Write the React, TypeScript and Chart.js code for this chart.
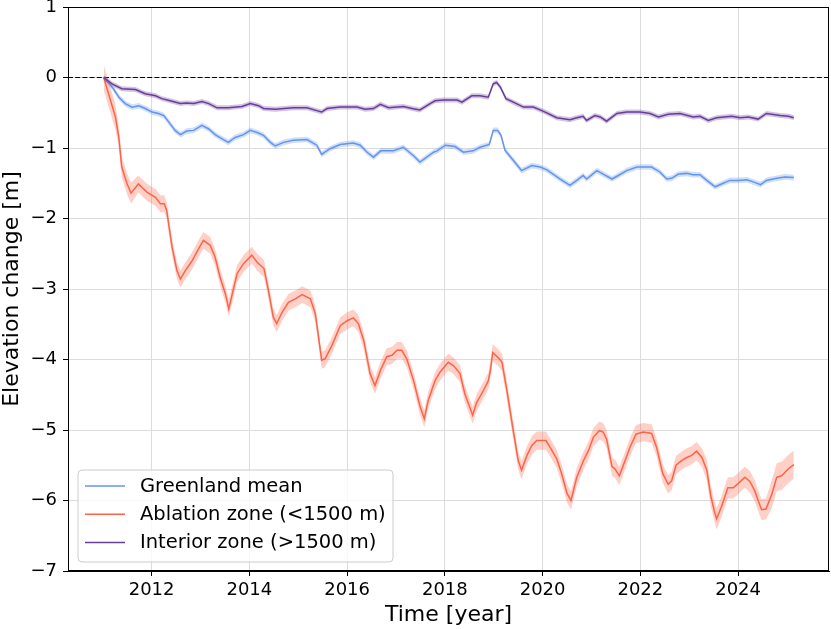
import { useEffect, useRef } from "react";
import { Chart, registerables } from "chart.js";

Chart.register(...registerables);

// ---------- axis ranges & ticks ----------
const X_MIN = 2010.29;
const X_MAX = 2025.86;
const Y_MIN = -7;
const Y_MAX = 1;
const xTicks = [2012, 2014, 2016, 2018, 2020, 2022, 2024];
const xTickLabels = ["2012", "2014", "2016", "2018", "2020", "2022", "2024"];
const yTicks = [-7, -6, -5, -4, -3, -2, -1, 0, 1];
const yTickLabels = ["\u22127", "\u22126", "\u22125", "\u22124", "\u22123", "\u22122", "\u22121", "0", "1"];

const xTitle = "Time [year]";
const yTitle = "Elevation change [m]";
const seriesNames = ["Greenland mean", "Ablation zone (<1500 m)", "Interior zone (>1500 m)"];
const seriesColors = ["#6495ED", "#FF6347", "#6a3d9a"];
const bandColors = ["rgba(100,149,237,0.3)", "rgba(255,99,71,0.3)", "rgba(106,61,154,0.3)"];

// ---------- data: [year, elevation change (m)] ----------
const meanPoints: [number, number][] = [
  [2011.02, 0.0], [2011.22, -0.16], [2011.33, -0.28], [2011.46, -0.37], [2011.6, -0.42],
  [2011.74, -0.4], [2011.87, -0.44], [2012.01, -0.49], [2012.14, -0.51], [2012.25, -0.54],
  [2012.35, -0.63], [2012.48, -0.75], [2012.59, -0.81], [2012.72, -0.76], [2012.86, -0.75],
  [2013.03, -0.68], [2013.17, -0.73], [2013.3, -0.81], [2013.47, -0.88], [2013.57, -0.92],
  [2013.71, -0.85], [2013.88, -0.81], [2014.02, -0.75], [2014.16, -0.78], [2014.29, -0.82],
  [2014.43, -0.92], [2014.53, -0.97], [2014.7, -0.92], [2014.9, -0.89], [2015.18, -0.88],
  [2015.38, -0.96], [2015.48, -1.09], [2015.65, -1.01], [2015.86, -0.95], [2016.13, -0.93],
  [2016.27, -0.96], [2016.41, -1.06], [2016.54, -1.13], [2016.69, -1.04], [2016.95, -1.04],
  [2017.15, -0.99], [2017.36, -1.11], [2017.49, -1.2], [2017.63, -1.13], [2017.77, -1.06],
  [2017.84, -1.04], [2018.01, -0.96], [2018.21, -0.98], [2018.38, -1.06], [2018.58, -1.04],
  [2018.72, -0.99], [2018.91, -0.95], [2018.99, -0.75], [2019.08, -0.75], [2019.15, -0.82],
  [2019.23, -1.03], [2019.37, -1.15], [2019.57, -1.32], [2019.78, -1.25], [2019.95, -1.27],
  [2020.09, -1.31], [2020.36, -1.44], [2020.56, -1.53], [2020.7, -1.46], [2020.83, -1.39],
  [2020.9, -1.44], [2021.11, -1.32], [2021.24, -1.37], [2021.42, -1.44], [2021.55, -1.39],
  [2021.72, -1.32], [2021.93, -1.27], [2022.23, -1.27], [2022.4, -1.34], [2022.54, -1.44],
  [2022.64, -1.43], [2022.78, -1.37], [2022.95, -1.36], [2023.08, -1.38], [2023.22, -1.38],
  [2023.36, -1.46], [2023.53, -1.55], [2023.66, -1.51], [2023.83, -1.46], [2024.0, -1.46],
  [2024.18, -1.45], [2024.31, -1.48], [2024.46, -1.52], [2024.58, -1.46], [2024.79, -1.43],
  [2024.96, -1.41], [2025.14, -1.42],
];

const ablationPoints: [number, number][] = [
  [2011.02, 0.0], [2011.12, -0.23], [2011.26, -0.56], [2011.33, -0.85], [2011.39, -1.27],
  [2011.5, -1.51], [2011.58, -1.64], [2011.73, -1.51], [2011.91, -1.63], [2012.08, -1.7],
  [2012.18, -1.79], [2012.26, -1.79], [2012.31, -1.89], [2012.42, -2.41], [2012.52, -2.74],
  [2012.59, -2.86], [2012.69, -2.74], [2012.83, -2.6], [2012.96, -2.43], [2013.06, -2.31],
  [2013.2, -2.38], [2013.3, -2.55], [2013.4, -2.83], [2013.51, -3.07], [2013.58, -3.28],
  [2013.75, -2.78], [2013.88, -2.64], [2014.05, -2.52], [2014.16, -2.62], [2014.3, -2.71],
  [2014.39, -3.02], [2014.49, -3.4], [2014.56, -3.49], [2014.67, -3.33], [2014.8, -3.19],
  [2014.94, -3.14], [2015.08, -3.08], [2015.25, -3.14], [2015.35, -3.35], [2015.48, -4.01],
  [2015.55, -3.99], [2015.69, -3.8], [2015.86, -3.52], [2016.0, -3.45], [2016.13, -3.41],
  [2016.23, -3.49], [2016.34, -3.73], [2016.47, -4.2], [2016.57, -4.37], [2016.68, -4.16],
  [2016.81, -3.96], [2016.92, -3.94], [2017.02, -3.87], [2017.12, -3.87], [2017.22, -3.99],
  [2017.36, -4.3], [2017.49, -4.66], [2017.58, -4.84], [2017.66, -4.58], [2017.8, -4.3],
  [2017.9, -4.18], [2018.07, -4.04], [2018.18, -4.09], [2018.31, -4.2], [2018.41, -4.49],
  [2018.57, -4.79], [2018.65, -4.61], [2018.79, -4.44], [2018.89, -4.3], [2018.93, -4.16],
  [2018.98, -3.9], [2019.1, -3.98], [2019.17, -4.04], [2019.27, -4.44], [2019.4, -5.01],
  [2019.5, -5.43], [2019.57, -5.57], [2019.68, -5.36], [2019.78, -5.22], [2019.88, -5.15],
  [2019.98, -5.15], [2020.07, -5.15], [2020.19, -5.29], [2020.29, -5.41], [2020.39, -5.62],
  [2020.5, -5.9], [2020.58, -6.0], [2020.7, -5.67], [2020.84, -5.43], [2020.94, -5.29],
  [2021.04, -5.1], [2021.16, -5.01], [2021.24, -5.03], [2021.31, -5.13], [2021.42, -5.52],
  [2021.48, -5.55], [2021.57, -5.65], [2021.69, -5.43], [2021.79, -5.24], [2021.91, -5.06],
  [2022.06, -5.03], [2022.16, -5.04], [2022.23, -5.05], [2022.33, -5.24], [2022.46, -5.62],
  [2022.57, -5.77], [2022.64, -5.72], [2022.73, -5.5], [2022.85, -5.43], [2022.95, -5.39],
  [2023.05, -5.36], [2023.15, -5.3], [2023.26, -5.39], [2023.36, -5.57], [2023.44, -5.93],
  [2023.51, -6.14], [2023.56, -6.26], [2023.66, -6.09], [2023.79, -5.82], [2023.9, -5.82],
  [2024.0, -5.76], [2024.14, -5.67], [2024.24, -5.73], [2024.34, -5.86], [2024.41, -6.0],
  [2024.48, -6.13], [2024.57, -6.12], [2024.69, -5.91], [2024.79, -5.67], [2024.89, -5.65],
  [2025.03, -5.55], [2025.14, -5.49],
];

const interiorPoints: [number, number][] = [
  [2011.02, 0.0], [2011.19, -0.09], [2011.39, -0.16], [2011.67, -0.17], [2011.87, -0.23],
  [2012.08, -0.26], [2012.21, -0.3], [2012.38, -0.33], [2012.59, -0.37], [2012.72, -0.36],
  [2012.86, -0.37], [2013.03, -0.34], [2013.17, -0.37], [2013.34, -0.43], [2013.57, -0.43],
  [2013.85, -0.41], [2014.02, -0.37], [2014.19, -0.4], [2014.29, -0.44], [2014.53, -0.45],
  [2014.9, -0.43], [2015.18, -0.43], [2015.38, -0.47], [2015.48, -0.49], [2015.59, -0.44],
  [2015.86, -0.42], [2016.2, -0.42], [2016.37, -0.45], [2016.54, -0.44], [2016.68, -0.38],
  [2016.85, -0.43], [2017.15, -0.41], [2017.33, -0.44], [2017.49, -0.46], [2017.7, -0.37],
  [2017.8, -0.33], [2017.97, -0.32], [2018.25, -0.32], [2018.35, -0.35], [2018.55, -0.26],
  [2018.72, -0.26], [2018.89, -0.28], [2018.99, -0.09], [2019.06, -0.07], [2019.14, -0.14],
  [2019.25, -0.3], [2019.4, -0.35], [2019.61, -0.42], [2019.81, -0.42], [2020.02, -0.48],
  [2020.29, -0.57], [2020.56, -0.6], [2020.7, -0.57], [2020.83, -0.55], [2020.9, -0.61],
  [2021.07, -0.54], [2021.18, -0.56], [2021.31, -0.62], [2021.52, -0.51], [2021.72, -0.49],
  [2021.99, -0.49], [2022.2, -0.51], [2022.37, -0.56], [2022.57, -0.52], [2022.81, -0.51],
  [2023.08, -0.56], [2023.22, -0.55], [2023.39, -0.61], [2023.56, -0.57], [2023.87, -0.55],
  [2024.04, -0.57], [2024.21, -0.56], [2024.41, -0.59], [2024.58, -0.51], [2024.86, -0.54],
  [2025.03, -0.55], [2025.14, -0.57],
];

// uncertainty half-widths (m)
const meanHalfWidth = 0.04;
const interiorHalfWidth = 0.035;
const ablationBandFrom = [2011.0, 2011.3, 2011.7, 2019.2, 2023.3, 2024.6];
const ablationBandHalf = [0.18, 0.15, 0.12, 0.13, 0.15, 0.2];

function ablationHalfAt(year: number): number {
  let h = ablationBandHalf[0];
  for (let i = 0; i < ablationBandFrom.length; i++) {
    if (year >= ablationBandFrom[i]) h = ablationBandHalf[i];
  }
  return h;
}

const FONT = "'DejaVu Sans', 'Liberation Sans', sans-serif";

export default function App() {
  const canvasRef = useRef<HTMLCanvasElement | null>(null);

  useEffect(() => {
    const canvas = canvasRef.current;
    if (!canvas) return;

    const toXY = (pts: [number, number][]) => pts.map(([x, y]) => ({ x, y }));
    const shift = (pts: [number, number][], f: (x: number) => number, sign: number) =>
      pts.map(([x, y]) => ({ x, y: y + sign * f(x) }));

    const bandPair = (pts: [number, number][], f: (x: number) => number, idx: number, order: number) => [
      {
        data: shift(pts, f, 1),
        borderWidth: 0,
        pointRadius: 0,
        backgroundColor: bandColors[idx],
        borderColor: "rgba(0,0,0,0)",
        fill: "+1",
        order,
      },
      {
        data: shift(pts, f, -1),
        borderWidth: 0,
        pointRadius: 0,
        borderColor: "rgba(0,0,0,0)",
        fill: false,
        order,
      },
    ];
    const lineDs = (pts: [number, number][], idx: number, order: number) => ({
      data: toXY(pts),
      borderColor: seriesColors[idx],
      borderWidth: 1.5,
      pointRadius: 0,
      fill: false,
      order,
    });

    const datasets: any[] = [
      {
        data: [
          { x: X_MIN, y: 0 },
          { x: X_MAX, y: 0 },
        ],
        borderColor: "#000000",
        borderWidth: 1.1,
        borderDash: [5, 2.2],
        pointRadius: 0,
        fill: false,
        order: 20,
      },
      ...bandPair(meanPoints, () => meanHalfWidth, 0, 19),
      lineDs(meanPoints, 0, 18),
      ...bandPair(ablationPoints, ablationHalfAt, 1, 17),
      lineDs(ablationPoints, 1, 16),
      ...bandPair(interiorPoints, () => interiorHalfWidth, 2, 15),
      lineDs(interiorPoints, 2, 14),
    ];

    const framePlugin = {
      id: "frameAndLegend",
      afterDatasetsDraw(chart: any) {
        const { ctx, chartArea } = chart;
        ctx.save();
        ctx.strokeStyle = "#000";
        ctx.lineWidth = 1;
        const l = Math.round(chartArea.left) + 0.5;
        const t = Math.round(chartArea.top) + 0.5;
        const r = Math.round(chartArea.right) - 0.5;
        const b = Math.round(chartArea.bottom) - 0.5;
        ctx.strokeRect(l, t, r - l, b - t);
        ctx.restore();
      },
      afterDraw(chart: any) {
        const { ctx, chartArea } = chart;
        const x0 = chartArea.left + 10;
        const w = 315;
        const h = 92;
        const y0 = chartArea.bottom - 9 - h;
        ctx.save();
        ctx.beginPath();
        const rad = 4;
        ctx.moveTo(x0 + rad, y0);
        ctx.lineTo(x0 + w - rad, y0);
        ctx.quadraticCurveTo(x0 + w, y0, x0 + w, y0 + rad);
        ctx.lineTo(x0 + w, y0 + h - rad);
        ctx.quadraticCurveTo(x0 + w, y0 + h, x0 + w - rad, y0 + h);
        ctx.lineTo(x0 + rad, y0 + h);
        ctx.quadraticCurveTo(x0, y0 + h, x0, y0 + h - rad);
        ctx.lineTo(x0, y0 + rad);
        ctx.quadraticCurveTo(x0, y0, x0 + rad, y0);
        ctx.closePath();
        ctx.fillStyle = "rgba(255,255,255,0.8)";
        ctx.fill();
        ctx.strokeStyle = "#cccccc";
        ctx.lineWidth = 1;
        ctx.stroke();
        ctx.font = `19.5px ${FONT}`;
        ctx.textBaseline = "middle";
        ctx.textAlign = "left";
        seriesNames.forEach((name, i) => {
          const cy = y0 + 16 + i * 28.2;
          ctx.beginPath();
          ctx.strokeStyle = seriesColors[i];
          ctx.lineWidth = 1.5;
          ctx.moveTo(x0 + 7, cy);
          ctx.lineTo(x0 + 47, cy);
          ctx.stroke();
          ctx.fillStyle = "#000";
          ctx.fillText(name, x0 + 62, cy + 1);
        });
        ctx.restore();
      },
    };

    const chart = new Chart(canvas, {
      type: "line",
      data: { datasets },
      options: {
        animation: false,
        responsive: false,
        events: [],
        layout: { padding: { top: 7, right: 2, left: 0, bottom: 0 } },
        plugins: {
          legend: { display: false },
          tooltip: { enabled: false },
        },
        elements: { line: { tension: 0 } },
        scales: {
          x: {
            type: "linear",
            min: X_MIN,
            max: X_MAX,
            afterBuildTicks: (scale: any) => {
              scale.ticks = xTicks.map((v) => ({ value: v }));
            },
            afterFit: (scale: any) => {
              scale.height = 58;
              scale.paddingLeft = 0;
              scale.paddingRight = 0;
            },
            ticks: {
              autoSkip: false,
              maxRotation: 0,
              padding: 4,
              color: "#000",
              font: { family: FONT, size: 18 },
              callback: (_v: any, i: number) => xTickLabels[i],
            },
            grid: {
              color: "#dcdcdc",
              lineWidth: 1,
              drawTicks: true,
              tickLength: 5,
              tickColor: "#000",
              tickWidth: 1,
            },
            border: { display: true, color: "#000", width: 1 },
            title: {
              display: true,
              text: xTitle,
              color: "#000",
              font: { family: FONT, size: 22, lineHeight: 1 },
              padding: { top: 0, bottom: 3 },
            },
          },
          y: {
            type: "linear",
            min: Y_MIN,
            max: Y_MAX,
            afterBuildTicks: (scale: any) => {
              scale.ticks = yTicks.map((v) => ({ value: v }));
            },
            afterFit: (scale: any) => {
              scale.width = 68;
              scale.paddingTop = 0;
              scale.paddingBottom = 0;
            },
            ticks: {
              autoSkip: false,
              padding: 6,
              color: "#000",
              font: { family: FONT, size: 18 },
              callback: (_v: any, i: number) => yTickLabels[i],
            },
            grid: {
              color: "#dcdcdc",
              lineWidth: 1,
              drawTicks: true,
              tickLength: 5,
              tickColor: "#000",
              tickWidth: 1,
            },
            border: { display: true, color: "#000", width: 1 },
            title: {
              display: true,
              text: yTitle,
              color: "#000",
              font: { family: FONT, size: 22, lineHeight: 1 },
              padding: { top: 1, bottom: 0 },
            },
          },
        },
      } as any,
      plugins: [framePlugin],
    });

    return () => {
      chart.destroy();
    };
  }, []);

  return (
    <div style={{ position: "absolute", left: 0, top: 0, width: 831, height: 629, background: "#fff" }}>
      <canvas ref={canvasRef} width={831} height={629} style={{ width: 831, height: 629, display: "block" }} />
    </div>
  );
}
